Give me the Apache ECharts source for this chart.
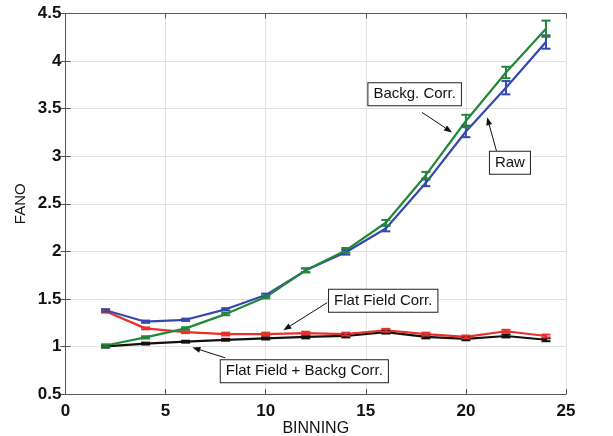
<!DOCTYPE html>
<html>
<head>
<meta charset="utf-8">
<script src="https://cdn.jsdelivr.net/npm/echarts@6/dist/echarts.min.js"></script>
<style>
  html, body { margin: 0; padding: 0; background: #fff; }
  #chart { width: 613px; height: 436px; }
</style>
</head>
<body>
<div id="chart"></div>
<script>
// Binning factors
const binning = [2, 4, 6, 8, 10, 12, 14, 16, 18, 20, 22, 24];

// Fano factor per processing method, with error half-widths
const rawFano   = [1.38, 1.26, 1.28, 1.39, 1.54, 1.80, 1.99, 2.24, 2.72, 3.26, 3.72, 4.20];
const rawErr    = [0.012, 0.012, 0.012, 0.012, 0.015, 0.02, 0.025, 0.03, 0.035, 0.06, 0.07, 0.07];
const backgFano = [1.01, 1.095, 1.19, 1.34, 1.52, 1.80, 2.01, 2.30, 2.80, 3.37, 3.88, 4.34];
const backgErr  = [0.012, 0.012, 0.012, 0.012, 0.015, 0.02, 0.025, 0.03, 0.035, 0.065, 0.06, 0.085];
const flatFano  = [1.37, 1.19, 1.15, 1.13, 1.13, 1.14, 1.13, 1.17, 1.13, 1.10, 1.16, 1.11];
const flatErr   = [0.015, 0.01, 0.01, 0.015, 0.015, 0.015, 0.015, 0.015, 0.015, 0.015, 0.015, 0.015];
const bothFano  = [1.00, 1.03, 1.05, 1.07, 1.085, 1.10, 1.11, 1.15, 1.10, 1.08, 1.11, 1.07];
const bothErr   = [0.012, 0.01, 0.01, 0.01, 0.012, 0.015, 0.015, 0.015, 0.015, 0.015, 0.015, 0.015];

// Axis ticks
const xTicks = { min: 0, max: 25, interval: 5 };
const yTicks = { min: 0.5, max: 4.5, interval: 0.5 };

// Annotation boxes: label, box centre and arrow (tail -> head) in data units
const notes = [
  { text: 'Backg. Corr.', box: [17.44, 3.65], from: [17.81, 3.46], to: [19.31, 3.25] },
  { text: 'Raw', box: [22.2, 2.93], from: [21.56, 3.03], to: [21.06, 3.41] },
  { text: 'Flat Field Corr.', box: [15.87, 1.48], from: [13.07, 1.46], to: [10.88, 1.17] },
  { text: 'Flat Field + Backg Corr.', box: [11.93, 0.74], from: [7.98, 0.88], to: [6.34, 0.99] }
];

const colors = { raw: '#3548b0', backg: '#23873a', flat: '#e8302a', both: '#111111' };
const font = 'Liberation Sans, Arial, sans-serif';

function lineSeries(name, values, color) {
  return {
    name, type: 'line', data: binning.map((b, i) => [b, values[i]]),
    showSymbol: false, lineStyle: { color, width: 2.2 }, itemStyle: { color },
    animation: false, z: 3
  };
}

function errorSeries(name, values, errs, color) {
  return {
    name: name + ' err', type: 'custom', animation: false, z: 4,
    data: binning.map((b, i) => [b, values[i] - errs[i], values[i] + errs[i]]),
    renderItem(params, api) {
      const lo = api.coord([api.value(0), api.value(1)]);
      const hi = api.coord([api.value(0), api.value(2)]);
      const hw = 4.5;
      const st = { stroke: color, lineWidth: 2, fill: null };
      return {
        type: 'group',
        children: [
          { type: 'line', shape: { x1: lo[0], y1: lo[1], x2: hi[0], y2: hi[1] }, style: st },
          { type: 'line', shape: { x1: lo[0] - hw, y1: lo[1], x2: lo[0] + hw, y2: lo[1] }, style: st },
          { type: 'line', shape: { x1: hi[0] - hw, y1: hi[1], x2: hi[0] + hw, y2: hi[1] }, style: st }
        ]
      };
    }
  };
}

const tickLabel = { color: '#111', fontSize: 17, fontWeight: 'bold', fontFamily: font };
const axisLineStyle = { lineStyle: { color: '#555', width: 1 } };

const chart = echarts.init(document.getElementById('chart'), null, { renderer: 'canvas' });
chart.setOption({
  backgroundColor: '#fff',
  animation: false,
  grid: { left: 65.5, right: 47, top: 13.5, bottom: 42, containLabel: false, outerBoundsMode: 'none' },
  xAxis: [
    {
      type: 'value', min: xTicks.min, max: xTicks.max, interval: xTicks.interval,
      name: 'BINNING', nameLocation: 'middle', nameGap: 27, nameMoveOverlap: false,
      nameTextStyle: { color: '#111', fontSize: 16, fontFamily: font, verticalAlign: 'top' },
      axisLine: axisLineStyle, axisTick: { inside: true, length: 5, lineStyle: { color: '#555' } },
      axisLabel: Object.assign({ margin: 9 }, tickLabel),
      splitLine: { show: true, lineStyle: { color: '#e2e2e2', width: 1 } }
    },
    {
      type: 'value', position: 'top', min: xTicks.min, max: xTicks.max, interval: xTicks.interval,
      axisLine: axisLineStyle, axisTick: { inside: true, length: 5, lineStyle: { color: '#555' } },
      axisLabel: { show: false }, splitLine: { show: false }
    }
  ],
  yAxis: [
    {
      type: 'value', min: yTicks.min, max: yTicks.max, interval: yTicks.interval,
      name: 'FANO', nameLocation: 'middle', nameGap: 45, nameMoveOverlap: false,
      nameTextStyle: { color: '#111', fontSize: 15, fontFamily: font, verticalAlign: 'middle' },
      axisLine: { show: true, lineStyle: { color: '#555', width: 1 } },
      axisTick: { show: true, inside: true, length: 5, lineStyle: { color: '#555' } },
      axisLabel: Object.assign({ margin: 4, formatter: v => String(+v.toFixed(1)) }, tickLabel),
      splitLine: { show: true, lineStyle: { color: '#e2e2e2', width: 1 } }
    },
    {
      type: 'value', position: 'right', min: yTicks.min, max: yTicks.max, interval: yTicks.interval,
      axisLine: { show: true, lineStyle: { color: '#555', width: 1 } },
      axisTick: { show: true, inside: true, length: 5, lineStyle: { color: '#555' } },
      axisLabel: { show: false }, splitLine: { show: false }
    }
  ],
  series: [
    lineSeries('Flat Field + Backg Corr.', bothFano, colors.both),
    errorSeries('Flat Field + Backg Corr.', bothFano, bothErr, colors.both),
    lineSeries('Flat Field Corr.', flatFano, colors.flat),
    errorSeries('Flat Field Corr.', flatFano, flatErr, colors.flat),
    lineSeries('Raw', rawFano, colors.raw),
    errorSeries('Raw', rawFano, rawErr, colors.raw),
    lineSeries('Backg. Corr.', backgFano, colors.backg),
    errorSeries('Backg. Corr.', backgFano, backgErr, colors.backg)
  ]
});

// Text boxes with arrows, positioned through the axis scales
const graphics = [];
notes.forEach(n => {
  const c = chart.convertToPixel({ xAxisIndex: 0, yAxisIndex: 0 }, n.box);
  const a = chart.convertToPixel({ xAxisIndex: 0, yAxisIndex: 0 }, n.from);
  const b = chart.convertToPixel({ xAxisIndex: 0, yAxisIndex: 0 }, n.to);
  const ang = Math.atan2(b[1] - a[1], b[0] - a[0]);
  const hl = 8, hw = 3;
  const bx = b[0] - hl * Math.cos(ang), by = b[1] - hl * Math.sin(ang);
  const px = -Math.sin(ang) * hw, py = Math.cos(ang) * hw;
  graphics.push({
    type: 'line', z: 10,
    shape: { x1: a[0], y1: a[1], x2: bx, y2: by },
    style: { stroke: '#111', lineWidth: 1 }
  });
  graphics.push({
    type: 'polygon', z: 10,
    shape: { points: [[b[0], b[1]], [bx + px, by + py], [bx - px, by - py]] },
    style: { fill: '#111' }
  });
  graphics.push({
    type: 'text', z: 11, x: c[0], y: c[1],
    style: {
      text: n.text, align: 'center', verticalAlign: 'middle',
      fontSize: 15, fontFamily: font, fill: '#111',
      backgroundColor: '#fff', borderColor: '#222', borderWidth: 1,
      padding: [4, 5, 3, 5]
    }
  });
});
chart.setOption({ graphic: graphics });
</script>
</body>
</html>
